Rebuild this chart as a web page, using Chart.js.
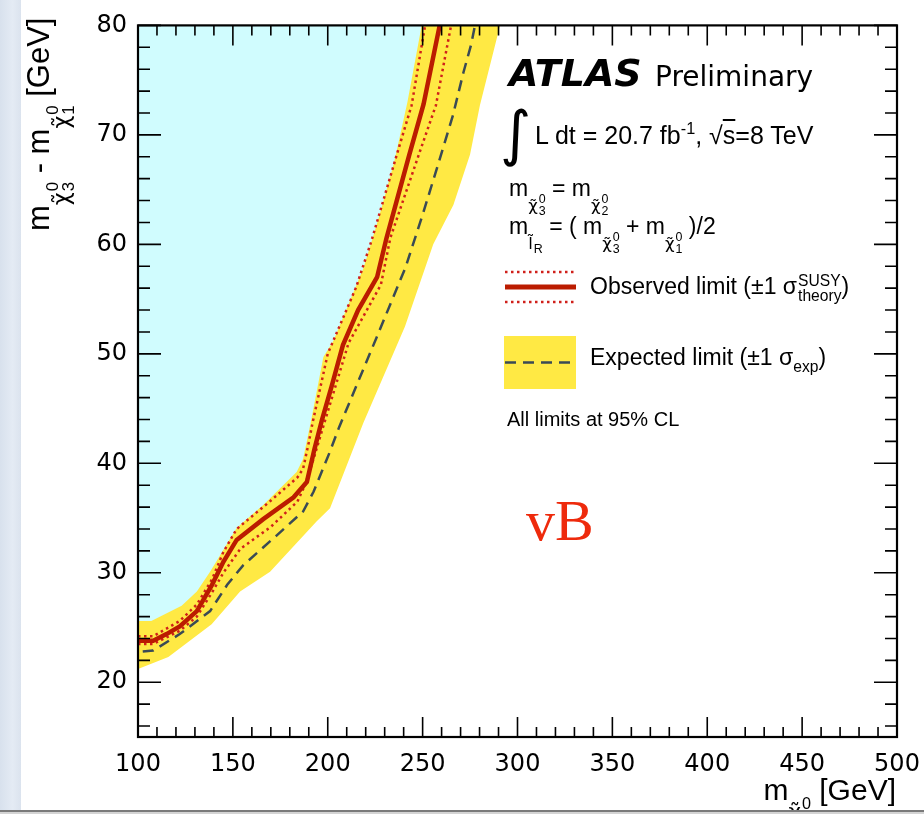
<!DOCTYPE html>
<html>
<head>
<meta charset="utf-8">
<script src="https://cdn.jsdelivr.net/npm/chart.js@4"></script>
<style>
  html, body { margin: 0; padding: 0; background: #fff; }
  #page { position: relative; width: 924px; height: 814px; overflow: hidden; background: #fff;
          font-family: "Liberation Sans", Arial, sans-serif; color: #000; }
  #plot { position: absolute; left: 0; top: 0; }
  #strip { position: absolute; left: 0; top: 0; width: 21px; height: 814px;
           background: linear-gradient(90deg, #d8e1ed, #e4ebf4 60%, #dbe3ee); z-index: 3; }
  #topCover { position: absolute; left: 21px; top: 0; width: 903px; height: 13px; background: #fff; z-index: 2; }
  #bottomBar { position: absolute; left: 0; top: 810px; width: 924px; height: 4px; background: #d4d4d4;
               border-top: 2px solid #7a7a7a; z-index: 3; }
  .t { position: absolute; white-space: nowrap; line-height: 1; z-index: 1; }
  .sb { font-size: .72em; vertical-align: -.9em; }
  .chi { font-family: "DejaVu Sans"; }
  .st { display: inline-block; font-size: .75em; line-height: .95; vertical-align: -.3em; text-align: left; margin-left: 1px;
        font-family: "Liberation Sans"; }
  .st span { display: block; }
  .ov { text-decoration: overline; }
</style>
</head>
<body>
<div id="page">
  <canvas id="plot" width="924" height="814"></canvas>

  <div class="t" style="left:23px; top:231px; font-size:31px; transform:rotate(-90deg); transform-origin:left top;">m<span class="sb"><span class="chi">χ̃</span><span class="st"><span>0</span><span>3</span></span></span> - m<span class="sb"><span class="chi">χ̃</span><span class="st"><span>0</span><span>1</span></span></span> [GeV]</div>
  <div class="t" style="right:28px; top:775px; font-size:30px;">m<span class="sb"><span class="chi">χ̃</span><span class="st"><span>0</span><span>&nbsp;</span></span></span> [GeV]</div>

  <div class="t" style="left:509px; top:54px; font-family:'DejaVu Sans'; font-size:38px; font-weight:bold; font-style:italic;">ATLAS</div>
  <div class="t" style="left:655px; top:63px; font-family:'DejaVu Sans'; font-size:28px;">Preliminary</div>
  <div class="t" style="left:500px; top:103px; font-family:'DejaVu Sans'; font-size:60px;">∫</div>
  <div class="t" style="left:535px; top:120px; font-size:25px;">L dt = 20.7 fb<sup style="font-size:.65em; vertical-align:.6em;">-1</sup>, √<span class="ov">s</span>=8 TeV</div>
  <div class="t" style="left:509px; top:177px; font-size:23px;">m<span class="sb"><span class="chi">χ̃</span><span class="st"><span>0</span><span>3</span></span></span> = m<span class="sb"><span class="chi">χ̃</span><span class="st"><span>0</span><span>2</span></span></span></div>
  <div class="t" style="left:509px; top:215px; font-size:23px;">m<span class="sb"><span class="chi">l̃</span><span class="st"><span>&nbsp;</span><span>R</span></span></span> = ( m<span class="sb"><span class="chi">χ̃</span><span class="st"><span>0</span><span>3</span></span></span> + m<span class="sb"><span class="chi">χ̃</span><span class="st"><span>0</span><span>1</span></span></span> )/2</div>
  <div class="t" style="left:590px; top:274px; font-size:23px;">Observed limit (±1 σ<span class="st" style="font-size:.68em; vertical-align:-.45em;"><span>SUSY</span><span>theory</span></span>)</div>
  <div class="t" style="left:590px; top:346px; font-size:23px;">Expected limit (±1 σ<span style="font-size:.68em; vertical-align:-.45em;">exp</span>)</div>
  <div class="t" style="left:507px; top:409px; font-size:20px;">All limits at 95% CL</div>
  <div class="t" style="left:526px; top:492px; font-family:'Liberation Serif', serif; font-size:58px; color:#ee2a0c;">vB</div>

  <div id="strip"></div>
  <div id="topCover"></div>
  <div id="bottomBar"></div>
</div>

<script>
const xTicks = [100, 150, 200, 250, 300, 350, 400, 450, 500];
const yTicks = [20, 30, 40, 50, 60, 70, 80];

// observed limit
const obsX = [100, 108, 115, 122, 131, 139, 145, 152, 166, 182, 189, 193, 197, 202, 208, 216, 226, 231, 243, 250.5, 259];
const obsY = [23.8, 23.8, 24.4, 25.1, 26.5, 28.9, 31.0, 33.0, 34.9, 36.9, 38.3, 41.3, 44.0, 47.0, 50.8, 54.0, 57.0, 60.6, 68.2, 72.8, 80];

// observed +1 sigma theory (left) and -1 sigma theory (right)
const obsUpX = [100, 108, 122, 131, 139, 145, 152, 168, 184, 187, 190, 192, 200, 215, 223, 236.4, 244.2, 251.3];
const obsUpY = [24.2, 24.2, 25.6, 27.1, 29.4, 31.9, 34.0, 36.3, 38.7, 39.5, 41.9, 43.7, 50.0, 56.1, 60.3, 68.2, 72.7, 80];
const obsDnX = [100, 108, 122, 131, 139, 145, 154, 170, 184, 188, 192, 197, 211, 228, 233, 248, 257, 265];
const obsDnY = [23.5, 23.5, 24.7, 26.0, 28.2, 30.0, 32.2, 34.2, 36.5, 38.0, 40.1, 43.0, 51.0, 56.3, 60.6, 68.2, 72.7, 80];

// expected limit
const expX = [102.5, 108, 122, 138, 147, 155.5, 173, 187, 192.5, 201, 206, 226, 241, 250, 258.5, 266, 271.5, 275.5, 277.6];
const expY = [22.8, 22.9, 24.4, 26.5, 28.9, 30.7, 33.4, 35.6, 37.4, 41.0, 43.3, 51.6, 57.9, 62.7, 67.5, 71.8, 75.7, 78.2, 80];

// expected +-1 sigma band edges
const bandLeftX = [100, 107, 123, 131, 138, 152, 166, 183.6, 187, 191, 197.7, 203, 219, 227, 235, 242, 249.5];
const bandLeftY = [25.6, 25.6, 27.0, 28.3, 30.1, 34.1, 36.2, 39.2, 40.4, 43.7, 49.7, 51.2, 57.9, 62.5, 67.5, 73.0, 80];
const bandRightX = [100, 116, 138.8, 153.8, 169.6, 194.2, 201.2, 218.8, 240.7, 255.6, 266.2, 275, 280.2, 290.8];
const bandRightY = [21.2, 22.3, 25.3, 28.3, 30.1, 34.7, 35.9, 43.7, 52.5, 60.0, 63.6, 68.2, 72.7, 80];

const OBS_COLOR = "#bb1c00";
const DOT_COLOR = "#d0201a";
const EXP_COLOR = "#3a4a55";
const BAND_COLOR = "#ffe944";
const EXCL_COLOR = "#d0fcfe";

const pts = (xs, ys) => xs.map((x, i) => ({ x, y: ys[i] }));

function lineSet(xs, ys, color, width, dash) {
  return {
    data: pts(xs, ys),
    borderColor: color,
    borderWidth: width,
    borderDash: dash,
    pointRadius: 0,
    fill: false,
    tension: 0
  };
}

function edgeSet(xs, ys, fillColor) {
  return {
    data: pts(xs, ys),
    borderColor: "rgba(0,0,0,0)",
    borderWidth: 0,
    backgroundColor: fillColor,
    pointRadius: 0,
    fill: "end",
    tension: 0
  };
}

const frameTicks = {
  id: "frameTicks",
  afterDatasetsDraw(chart) {
    const { ctx, chartArea: a, scales } = chart;
    const xs = scales.x, ys = scales.y;
    ctx.save();
    ctx.strokeStyle = "#000";
    ctx.lineWidth = 1.6;
    ctx.beginPath();
    for (let v = xs.min; v <= xs.max; v += 10) {
      const px = xs.getPixelForValue(v);
      const len = v % 50 === 0 ? 20 : 10;
      ctx.moveTo(px, a.bottom); ctx.lineTo(px, a.bottom - len);
      ctx.moveTo(px, a.top); ctx.lineTo(px, a.top + len);
    }
    for (let v = 16; v <= ys.max; v += 2) {
      const py = ys.getPixelForValue(v);
      const len = v % 10 === 0 ? 23 : 12;
      ctx.moveTo(a.left, py); ctx.lineTo(a.left + len, py);
      ctx.moveTo(a.right, py); ctx.lineTo(a.right - len, py);
    }
    ctx.stroke();
    ctx.lineWidth = 2.2;
    ctx.strokeRect(a.left, a.top, a.right - a.left, a.bottom - a.top);
    ctx.restore();
  }
};

function hline(ctx, x0, x1, y, color, width, dash) {
  ctx.beginPath();
  ctx.strokeStyle = color;
  ctx.lineWidth = width;
  ctx.setLineDash(dash);
  ctx.moveTo(x0, y);
  ctx.lineTo(x1, y);
  ctx.stroke();
}

const legendMarks = {
  id: "legendMarks",
  afterDraw(chart) {
    const { ctx } = chart;
    ctx.save();
    ctx.fillStyle = BAND_COLOR;
    ctx.fillRect(504, 336, 72, 53);
    hline(ctx, 505, 576, 362.5, EXP_COLOR, 2.5, [11, 7]);
    hline(ctx, 505, 576, 272, DOT_COLOR, 2.5, [2.5, 3.5]);
    hline(ctx, 505, 576, 302, DOT_COLOR, 2.5, [2.5, 3.5]);
    hline(ctx, 505, 576, 287, OBS_COLOR, 5, []);
    ctx.restore();
  }
};

Chart.defaults.font.family = "'DejaVu Sans'";
Chart.defaults.color = "#000";

new Chart(document.getElementById("plot"), {
  type: "line",
  data: {
    datasets: [
      lineSet(obsX, obsY, OBS_COLOR, 4.5, []),
      lineSet(obsUpX, obsUpY, DOT_COLOR, 2.5, [2.5, 3.5]),
      lineSet(obsDnX, obsDnY, DOT_COLOR, 2.5, [2.5, 3.5]),
      lineSet(expX, expY, EXP_COLOR, 2.5, [11, 7]),
      edgeSet(bandLeftX, bandLeftY, EXCL_COLOR),
      edgeSet(bandRightX, bandRightY, BAND_COLOR)
    ]
  },
  options: {
    responsive: false,
    animation: false,
    devicePixelRatio: 1,
    layout: { padding: { left: 0, right: 27, top: 19, bottom: 0 } },
    plugins: { legend: { display: false }, tooltip: { enabled: false } },
    scales: {
      x: {
        type: "linear",
        min: 100,
        max: 500,
        afterBuildTicks: (s) => { s.ticks = xTicks.map((v) => ({ value: v })); },
        afterFit: (s) => { s.height = 77; },
        grid: { display: false, drawTicks: false },
        border: { display: false },
        ticks: { font: { size: 24, lineHeight: 2.3 }, padding: 0, maxRotation: 0, autoSkip: false }
      },
      y: {
        type: "linear",
        min: 15,
        max: 80,
        afterBuildTicks: (s) => { s.ticks = yTicks.map((v) => ({ value: v })); },
        afterFit: (s) => { s.width = 138; },
        grid: { display: false, drawTicks: false },
        border: { display: false },
        ticks: { font: { size: 24 }, padding: 11, autoSkip: false }
      }
    }
  },
  plugins: [frameTicks, legendMarks]
});
</script>
</body>
</html>
